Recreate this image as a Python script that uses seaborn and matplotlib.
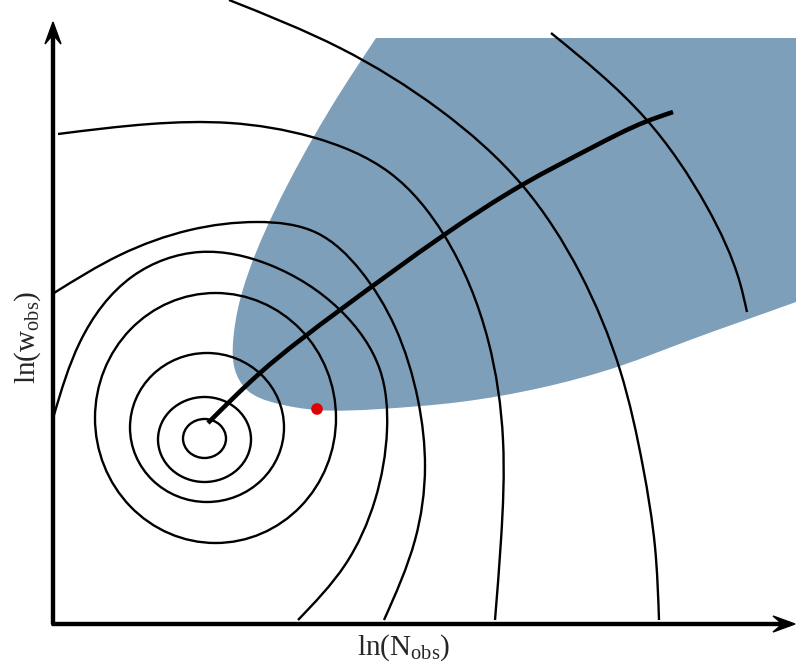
import numpy as np
import matplotlib
matplotlib.use("Agg")
import matplotlib.pyplot as plt
from matplotlib.path import Path
from matplotlib.patches import PathPatch, Ellipse
import seaborn as sns

sns.set_theme(style="white")
plt.rcParams['font.family'] = ['Liberation Serif', 'DejaVu Serif']
plt.rcParams['mathtext.fontset'] = 'custom'
plt.rcParams['mathtext.rm'] = 'Liberation Serif'

# everything, in picture pixels (y grows downward)
# closed likelihood contours round the peak: centre x, centre y, width, height
ring_cx = [204.5, 204.5, 207, 215.5]
ring_cy = [438.5, 439.5, 427.5, 418]
ring_w = [43, 93, 154, 241]
ring_h = [39, 85, 149, 250]

# open contours, left to right
c5_x = [54, 80, 133, 200, 270, 340, 380, 387, 375, 345, 298]
c5_y = [415, 342, 276, 252, 265, 310, 370, 430, 500, 565, 620]
c6_x = [54, 120, 190, 257, 317, 360, 395, 418, 425, 415, 384]
c6_y = [293, 255, 230, 222, 233, 270, 327, 400, 467, 540, 620]
c7_x = [58, 150, 230, 312, 390, 444, 488, 503, 501, 495]
c7_y = [134, 124, 123, 137, 173, 235, 340, 440, 540, 620]
c8_x = [229, 340, 440, 522, 580, 620, 643, 655, 659]
c8_y = [0, 48, 110, 185, 273, 370, 467, 547, 620]
c9_x = [551, 645, 707, 740, 747]
c9_y = [33, 118, 207, 283, 312]
contours = [(c5_x, c5_y), (c6_x, c6_y), (c7_x, c7_y), (c8_x, c8_y), (c9_x, c9_y)]

# thick track
track_x = [208, 260, 340, 444, 522, 593, 645, 673]
track_y = [423, 373, 310, 235, 185, 147, 122, 112]

# shaded region: straight top and right side, then curved edge back to the top
region_x = [796, 740, 690, 620, 540, 460, 380, 317, 275, 247, 235, 233, 240, 257, 290, 340, 376]
region_y = [302, 322, 340, 366, 388, 402, 409, 410, 403, 390, 370, 343, 300, 250, 180, 93, 38]
region_top = 38

# observed point
obs_x = [317]
obs_y = [409]


def smooth_verts(xs, ys):
    # natural cubic spline through the read points, written as bezier pieces
    p = np.column_stack([xs, ys]).astype(float)
    n = len(p)
    h = np.hypot(*np.diff(p, axis=0).T)
    A = np.zeros((n, n))
    b = np.zeros((n, 2))
    A[0, 0], A[0, 1] = 2, 1
    b[0] = 3 * (p[1] - p[0]) / h[0]
    A[-1, -2], A[-1, -1] = 1, 2
    b[-1] = 3 * (p[-1] - p[-2]) / h[-1]
    for i in range(1, n - 1):
        A[i, i - 1] = 1 / h[i - 1]
        A[i, i] = 2 * (1 / h[i - 1] + 1 / h[i])
        A[i, i + 1] = 1 / h[i]
        b[i] = 3 * ((p[i] - p[i - 1]) / h[i - 1] ** 2 + (p[i + 1] - p[i]) / h[i] ** 2)
    m = np.linalg.solve(A, b)
    verts = [p[0]]
    codes = [Path.MOVETO]
    for i in range(n - 1):
        verts += [p[i] + m[i] * h[i] / 3, p[i + 1] - m[i + 1] * h[i] / 3, p[i + 1]]
        codes += [Path.CURVE4] * 3
    return verts, codes


fig = plt.figure(figsize=(7.96, 6.68), dpi=100)
ax = fig.add_axes([0, 0, 1, 1])
ax.set_xlim(0, 796)
ax.set_ylim(668, 0)
ax.axis('off')

# shaded region
v, c = smooth_verts(region_x, region_y)
verts = [(region_x[-1], region_top), (796, region_top)] + v[0:1]
codes = [Path.MOVETO, Path.LINETO, Path.LINETO]
verts += v[1:]
codes += c[1:]
verts.append(verts[0])
codes.append(Path.CLOSEPOLY)
ax.add_patch(PathPatch(Path(verts, codes), facecolor='#7e9fba', edgecolor='none', zorder=1))

# contours
for cx, cy, w, hh in zip(ring_cx, ring_cy, ring_w, ring_h):
    ax.add_patch(Ellipse((cx, cy), w, hh, fill=False, edgecolor='black', lw=1.7, zorder=2))
for xs, ys in contours:
    v, c = smooth_verts(xs, ys)
    ax.add_patch(PathPatch(Path(v, c), facecolor='none', edgecolor='black', lw=1.7, zorder=2))

# track
v, c = smooth_verts(track_x, track_y)
ax.add_patch(PathPatch(Path(v, c), facecolor='none', edgecolor='black', lw=3.3,
                       capstyle='butt', zorder=3))

sns.scatterplot(x=obs_x, y=obs_y, ax=ax, color='#e00000', s=70, edgecolor='none', zorder=4)

# axes with arrows
ax.arrow(53, 624, 0, -602, width=3, head_width=16, head_length=22, overhang=0.35,
         length_includes_head=True, color='black', zorder=5)
ax.arrow(52, 624, 743, 0, width=3, head_width=16, head_length=22, overhang=0.35,
         length_includes_head=True, color='black', zorder=5)

ax.text(404, 648, r'ln(N$_{\mathrm{obs}}$)', fontsize=21, ha='center', va='center')
ax.text(28, 337, r'ln(w$_{\mathrm{obs}}$)', fontsize=21, ha='center', va='center', rotation=90)

fig.savefig('out.png', dpi=100)
